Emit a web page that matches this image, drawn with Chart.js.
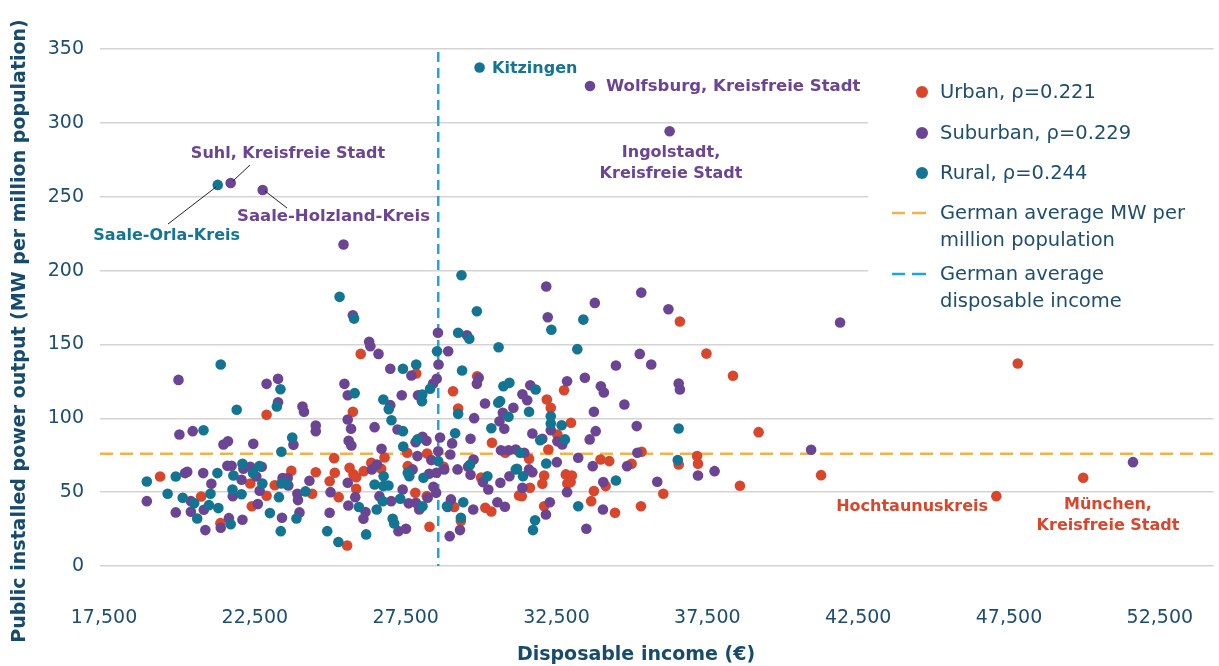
<!DOCTYPE html>
<html>
<head>
<meta charset="utf-8">
<script src="https://cdn.jsdelivr.net/npm/chart.js@4.4.1/dist/chart.umd.min.js"></script>
<style>
  html, body { margin: 0; padding: 0; background: #ffffff; }
  #wrap { width: 1219px; height: 666px; position: relative; }
</style>
</head>
<body>
<div id="wrap"><canvas id="c"></canvas></div>
<script>
// Axis ticks
const xTicks = [17500, 22500, 27500, 32500, 37500, 42500, 47500, 52500];
const yTicks = [0, 50, 100, 150, 200, 250, 300, 350];

// National averages
const avgIncome = 28580;   // € disposable income
const avgPower = 76;       // MW per million population

// Urban districts
const urbanIncome = [26010,36590,37470,38350,47790,39200,38580,41270,47080,49960,22890,19360,22350,22890,23160,23710,24520,24400,20720,22400,21360,24980,27850,29870,29070,25750,29240,30360,30800,25130,26800,27550,28210,28760,30000,31260,30140,30340,29330,29110,28290,27570,27820,28200,25280,25860,25560,26690,26360,26110,25640,25770,25860,25150,32750,32180,32310,32980,32530,32230,31590,33960,34250,34990,35320,36550,37160,37190,32090,32030,31620,31350,32810,33010,32860,32970,33740,34130,36040,33650,32090,34440,35300];
const urbanPower = [143.6,165.5,143.8,128.8,137.1,90.6,54.3,61.5,47.3,59.7,102.4,60.6,55.9,47.6,54.7,64.5,63.5,48.9,47.1,40.5,29.0,57.4,130.3,128.5,118.3,104.4,106.6,83.4,76.7,73.0,73.5,76.7,76.2,67.2,59.9,47.8,39.4,36.9,30.4,39.9,26.6,67.6,49.6,47.3,46.6,52.3,13.9,65.8,69.9,64.2,66.5,62.0,60.1,63.1,119.0,112.7,107.1,97.0,89.0,78.9,72.6,72.1,71.0,69.2,77.3,68.7,74.4,69.2,61.3,55.7,53.0,47.3,62.0,61.3,55.9,56.8,50.7,54.1,48.9,43.9,40.5,36.1,40.5];

// Suburban districts
const suburbanIncome = [33610,36250,21700,22760,25440,41900,25750,26290,26330,26600,28570,29530,28910,32160,35310,33770,36210,32210,35260,34470,35640,26990,27690,28590,29920,29860,25470,25580,27370,27910,28410,28530,26990,25580,25690,26470,30130,30720,31070,30610,29770,30770,27230,25610,25700,27830,28190,28060,26700,28640,29040,29650,30660,30910,31150,27890,28580,28980,28350,29750,29570,29220,29650,30060,30940,30240,30640,30540,30790,29740,29300,28960,28890,29000,28510,28420,28280,28520,28780,27730,27840,28230,27950,27600,27020,26630,26170,26100,25600,25830,25010,24980,27260,27510,26550,26380,25580,27400,19970,22890,23270,23270,24080,24130,24520,24520,20000,20440,21460,21610,22450,23780,20190,20260,20790,21060,21590,21730,22120,22350,22060,22550,22730,22660,23420,23590,23610,24310,23910,23930,18920,20380,20810,21770,22600,19880,20380,23400,23980,21640,22090,21370,20860,31630,32850,33440,33970,34070,31370,31530,33740,34750,36550,36590,35160,31700,32310,32030,32530,32690,33800,33600,31430,32510,33220,33700,34840,35180,37190,31590,31700,31370,32850,34050,35840,32280,32150,34040,33490,40940,37740,51610];
const suburbanPower = [325.0,294.3,259.3,254.5,217.6,164.8,169.8,151.8,148.8,143.6,157.9,156.2,145.4,189.2,185.1,178.1,173.8,168.4,143.6,135.7,136.4,133.5,129.0,136.4,127.4,123.3,123.3,115.6,115.6,115.6,123.5,126.7,108.9,99.2,92.9,94.0,110.0,103.7,107.1,98.0,100.1,92.9,92.4,84.8,81.6,83.8,84.8,87.5,79.4,87.0,83.0,86.1,78.4,78.4,78.9,74.4,77.7,75.5,71.7,72.1,67.2,65.4,61.8,56.8,60.8,51.8,56.4,43.2,40.1,38.3,24.3,20.2,39.9,45.1,49.6,53.7,62.5,63.1,65.4,65.4,42.8,46.2,38.3,42.4,43.9,47.3,36.5,32.0,41.0,46.6,50.0,36.1,23.6,25.2,68.7,65.4,56.4,51.8,126.0,123.3,126.7,110.9,108.0,104.4,95.1,91.3,89.0,91.3,82.3,84.5,82.7,82.1,62.9,63.8,62.9,55.7,67.9,67.9,65.8,67.2,58.4,60.6,67.2,50.9,59.5,59.5,54.5,57.7,48.9,44.6,43.9,43.9,38.1,47.3,41.9,36.3,36.7,32.7,36.3,32.4,31.3,25.9,24.3,122.4,125.1,127.4,121.7,117.5,116.3,112.2,104.4,109.3,123.5,119.5,94.7,89.7,91.9,86.1,84.5,82.3,91.3,85.7,76.7,70.3,73.3,67.6,67.6,76.7,61.3,65.4,63.5,53.0,50.0,56.8,57.0,43.2,34.9,38.3,25.2,78.7,64.2,70.3];

// Rural districts
const ruralIncome = [29950,21270,21370,29350,25310,25790,29860,29240,29610,30580,28540,32330,33390,33190,27410,27850,29370,30740,30940,25810,28050,28040,28310,26760,26940,27030,29240,30570,30630,30910,30340,27410,29140,27890,27420,28580,29630,30210,31150,29410,29330,28870,28090,27570,27620,28060,27320,26740,26540,25950,24900,25270,26190,27070,27120,26470,26770,26760,26930,23350,23230,21900,20800,23740,23380,18920,19880,21260,22090,21790,22440,22650,22750,23300,23380,23550,24180,19610,20110,20490,21030,20980,21290,21760,22060,20590,23000,23880,21700,23360,31810,31590,32310,32310,32670,36550,31960,32780,31290,32160,36520,31190,31390,34470,33220,31790,31720];
const ruralPower = [337.5,258.0,136.4,196.8,182.2,167.5,172.5,157.9,153.8,148.1,145.4,159.9,166.8,146.8,133.5,136.4,132.3,121.7,124.0,117.0,116.1,111.6,120.0,112.7,106.2,98.7,103.0,110.5,111.6,101.0,93.3,91.3,89.9,85.7,80.9,71.0,68.5,60.8,65.4,43.2,32.7,40.5,59.7,63.1,60.8,40.5,45.5,43.9,38.3,39.9,23.6,16.2,21.4,32.0,28.8,55.2,60.8,54.1,54.5,119.7,108.0,105.8,91.9,87.0,77.3,57.2,60.6,62.9,69.2,61.3,62.9,67.6,55.9,46.6,55.9,55.9,50.5,48.9,46.2,42.4,48.9,41.2,39.2,51.8,48.6,32.2,35.8,32.2,28.3,23.6,119.5,104.4,101.4,96.5,95.3,93.1,85.2,85.7,76.7,69.4,71.7,65.8,60.8,57.9,40.5,30.9,24.3];

const seriesNames = ['Urban, ρ=0.221', 'Suburban, ρ=0.229', 'Rural, ρ=0.244'];
const avgLineNames = [['German average MW per', 'million population'], ['German average', 'disposable income']];

const COL = {
  urban: '#D8462B',
  suburban: '#6B4593',
  rural: '#147592',
  avgPower: '#F0B249',
  avgIncome: '#1AA7E1',
  text: '#1D4E6F',
  grid: '#D4D4D4'
};
const FONT = '"DejaVu Sans", sans-serif';

const pts = (xs, ys) => xs.map((v, i) => ({ x: v, y: ys[i] }));

// Named districts: label lines, colour, text anchor, alignment, optional leader line
const callouts = [
  { lines: ['Kitzingen'], color: COL.rural, x: 492, y: 69, align: 'left' },
  { lines: ['Wolfsburg, Kreisfreie Stadt'], color: COL.suburban, x: 606, y: 87, align: 'left', size: 16.5 },
  { lines: ['Ingolstadt,', 'Kreisfreie Stadt'], color: COL.suburban, x: 671, y: 153, align: 'center' },
  { lines: ['Suhl, Kreisfreie Stadt'], color: COL.suburban, x: 288, y: 154, align: 'center', leader: [250, 165, 233, 181] },
  { lines: ['Saale-Orla-Kreis'], color: COL.rural, x: 240, y: 236, align: 'right', leader: [168, 224, 216, 187] },
  { lines: ['Saale-Holzland-Kreis'], color: COL.suburban, x: 237, y: 217, align: 'left', size: 16.5, leader: [265, 191, 287, 208] },
  { lines: ['Hochtaunuskreis'], color: COL.urban, x: 988, y: 507, align: 'right' },
  { lines: ['München,', 'Kreisfreie Stadt'], color: COL.urban, x: 1108, y: 505, align: 'center' }
];

const decor = {
  id: 'decor',
  beforeDatasetsDraw(chart) {
    const { ctx, chartArea: a, scales: { x, y } } = chart;
    ctx.save();
    // panel behind the legend
    ctx.fillStyle = '#ffffff';
    ctx.fillRect(868, 58, 1219 - 868, 262);
    ctx.lineWidth = 2.5;
    // average power line
    const yp = y.getPixelForValue(avgPower);
    ctx.strokeStyle = COL.avgPower;
    ctx.setLineDash([13, 7]);
    ctx.beginPath(); ctx.moveTo(a.left, yp); ctx.lineTo(a.right, yp); ctx.stroke();
    // average income line
    const xp = x.getPixelForValue(avgIncome);
    ctx.strokeStyle = COL.avgIncome;
    ctx.setLineDash([10, 6]);
    ctx.beginPath(); ctx.moveTo(xp, a.top + 3); ctx.lineTo(xp, a.bottom); ctx.stroke();
    ctx.restore();
  },
  afterDraw(chart) {
    const { ctx } = chart;
    ctx.save();
    // axis titles
    ctx.fillStyle = '#174B6C';
    ctx.font = 'bold 19px ' + FONT;
    ctx.textAlign = 'center';
    ctx.textBaseline = 'middle';
    ctx.fillText('Disposable income (€)', 636, 655);
    ctx.save();
    ctx.translate(20, 331);
    ctx.rotate(-Math.PI / 2);
    ctx.fillText('Public installed power output (MW per million population)', 0, 0);
    ctx.restore();

    // legend
    ctx.font = '19.5px ' + FONT;
    ctx.textAlign = 'left';
    ctx.fillStyle = COL.text;
    const dotCols = [COL.urban, COL.suburban, COL.rural];
    const dotY = [92, 133, 173];
    dotCols.forEach((c, i) => {
      ctx.beginPath();
      ctx.arc(922, dotY[i], 6, 0, Math.PI * 2);
      ctx.fillStyle = c;
      ctx.fill();
      ctx.fillStyle = COL.text;
      ctx.fillText(seriesNames[i], 940, dotY[i] + 1);
    });
    const lineCols = [COL.avgPower, COL.avgIncome];
    const lineY = [213, 274];
    lineCols.forEach((c, i) => {
      ctx.strokeStyle = c;
      ctx.lineWidth = 2.7;
      ctx.beginPath();
      ctx.moveTo(892, lineY[i]); ctx.lineTo(905, lineY[i]);
      ctx.moveTo(912, lineY[i]); ctx.lineTo(926, lineY[i]);
      ctx.stroke();
      ctx.fillStyle = COL.text;
      avgLineNames[i].forEach((t, k) => ctx.fillText(t, 940, lineY[i] + 1 + k * 26.5));
    });

    // district labels
    callouts.forEach(c => {
      ctx.font = 'bold ' + (c.size || 16) + 'px ' + FONT;
      ctx.fillStyle = c.color;
      ctx.textAlign = c.align;
      c.lines.forEach((t, k) => ctx.fillText(t, c.x, c.y + k * 20.5));
      if (c.leader) {
        ctx.strokeStyle = '#222222';
        ctx.lineWidth = 1;
        ctx.beginPath();
        ctx.moveTo(c.leader[0], c.leader[1]);
        ctx.lineTo(c.leader[2], c.leader[3]);
        ctx.stroke();
      }
    });
    ctx.restore();
  }
};

const dotStyle = { pointRadius: 5.3, pointHoverRadius: 5.3, borderWidth: 0, showLine: false };

new Chart(document.getElementById('c'), {
  type: 'scatter',
  data: {
    datasets: [
      { label: seriesNames[0], data: pts(urbanIncome, urbanPower), backgroundColor: COL.urban, borderColor: COL.urban, order: 3, ...dotStyle },
      { label: seriesNames[1], data: pts(suburbanIncome, suburbanPower), backgroundColor: COL.suburban, borderColor: COL.suburban, order: 2, ...dotStyle },
      { label: seriesNames[2], data: pts(ruralIncome, ruralPower), backgroundColor: COL.rural, borderColor: COL.rural, order: 1, ...dotStyle }
    ]
  },
  options: {
    responsive: true,
    maintainAspectRatio: false,
    devicePixelRatio: 1,
    animation: false,
    events: [],
    layout: { padding: { top: 49, right: 3, left: 0, bottom: 0 } },
    plugins: { legend: { display: false }, tooltip: { enabled: false } },
    scales: {
      x: {
        type: 'linear',
        min: 17368,
        max: 54285,
        afterBuildTicks: ax => { ax.ticks = xTicks.map(v => ({ value: v })); },
        afterFit: s => { s.height = 100; s.paddingLeft = 0; s.paddingRight = 0; },
        grid: { display: false },
        border: { display: false },
        ticks: {
          padding: 33,
          maxRotation: 0,
          autoSkip: false,
          color: COL.text,
          font: { family: FONT, size: 19 },
          callback: v => v.toLocaleString('en-US')
        }
      },
      y: {
        min: 0,
        max: 350,
        afterBuildTicks: ax => { ax.ticks = yTicks.map(v => ({ value: v })); },
        afterFit: s => { s.width = 100; },
        grid: { color: COL.grid, lineWidth: 1.5, drawTicks: false },
        border: { display: false },
        ticks: {
          padding: 16,
          color: COL.text,
          font: { family: FONT, size: 19 }
        }
      }
    }
  },
  plugins: [decor]
});
</script>
</body>
</html>
